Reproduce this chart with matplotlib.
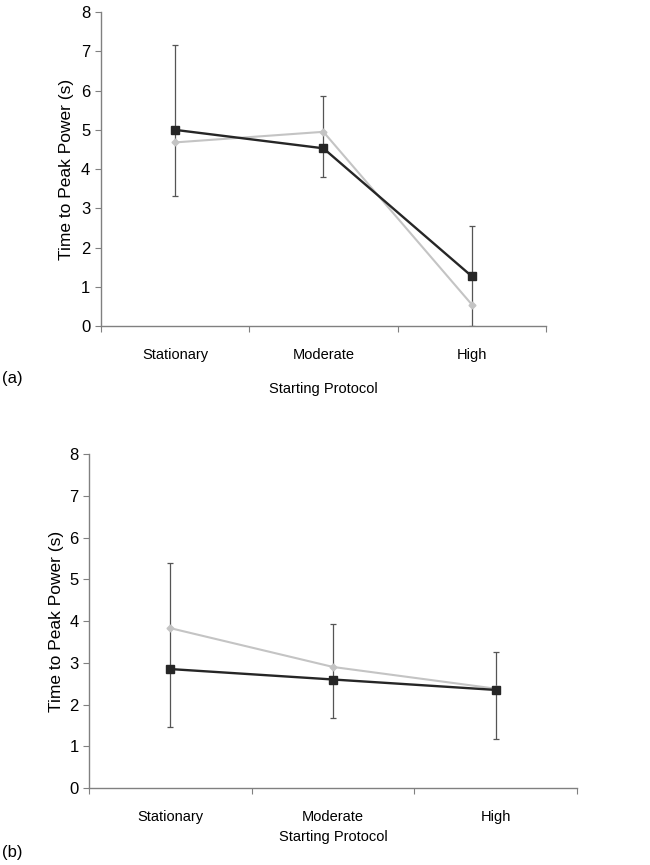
import matplotlib
matplotlib.use("Agg")
import matplotlib.pyplot as plt
import numpy as np

plt.rcParams['font.family'] = ['Liberation Sans', 'DejaVu Sans']

categories = ["Stationary", "Moderate", "High"]

# Panel (a)
a_black = [5.0, 4.53, 1.27]
a_gray = [4.68, 4.95, 0.55]
a_err_low = [3.32, 3.80, 0.0]
a_err_high = [7.15, 5.85, 2.55]

# Panel (b)
b_black = [2.85, 2.60, 2.35]
b_gray = [3.83, 2.90, 2.38]
b_err_low = [1.47, 1.68, 1.18]
b_err_high = [5.38, 3.93, 3.25]

yticks = [0, 1, 2, 3, 4, 5, 6, 7, 8]

fig = plt.figure(figsize=(6.5, 8.65), dpi=100)

def panel(rect, black, gray, lo, hi, label, label_y, xlabelpad, ticklabelpad, ylabelpad):
    ax = fig.add_axes(rect)
    x = np.arange(len(categories)) + 0.5
    black = np.array(black); lo = np.array(lo); hi = np.array(hi)
    ax.errorbar(x, black, yerr=[black - lo, hi - black], fmt='none',
                ecolor='#555555', elinewidth=0.9, capsize=2.5, capthick=0.9, zorder=1)
    ax.plot(x, gray, color='#c4c4c4', lw=1.5, marker='D', ms=3.5,
            mfc='#c4c4c4', mec='#c4c4c4', zorder=2)
    ax.plot(x, black, color='#262626', lw=1.7, marker='s', ms=6,
            mfc='#262626', mec='#262626', zorder=3)
    ax.set_xlim(0, 3)
    ax.set_ylim(0, 8)
    ax.set_yticks(yticks)
    ax.set_xticks([0, 1, 2, 3])
    ax.set_xticklabels([])
    ax.set_xticks(x, minor=True)
    ax.set_xticklabels(categories, minor=True, fontsize=10.5)
    ax.tick_params(axis='x', which='minor', length=0, pad=ticklabelpad)
    ax.tick_params(axis='x', which='major', length=4, color='#808080', direction='out')
    ax.tick_params(axis='y', length=4, color='#808080', labelsize=12, direction='out')
    for s in ['top', 'right']:
        ax.spines[s].set_visible(False)
    for s in ['left', 'bottom']:
        ax.spines[s].set_color('#808080')
        ax.spines[s].set_linewidth(1.0)
    ax.set_ylabel("Time to Peak Power (s)", fontsize=12.5, labelpad=ylabelpad)
    ax.set_xlabel("Starting Protocol", fontsize=10.5, labelpad=xlabelpad)
    fig.text(2/650, 1 - label_y/865, label, fontsize=12, va='center', ha='left')
    return ax

panel([0.155, 0.623, 0.685, 0.363], a_black, a_gray, a_err_low, a_err_high,
      "(a)", 378, 14, 16, 5)
panel([0.137, 0.089, 0.751, 0.386], b_black, b_gray, b_err_low, b_err_high,
      "(b)", 852, 4, 16, 4)

fig.savefig("out.png", dpi=100)
